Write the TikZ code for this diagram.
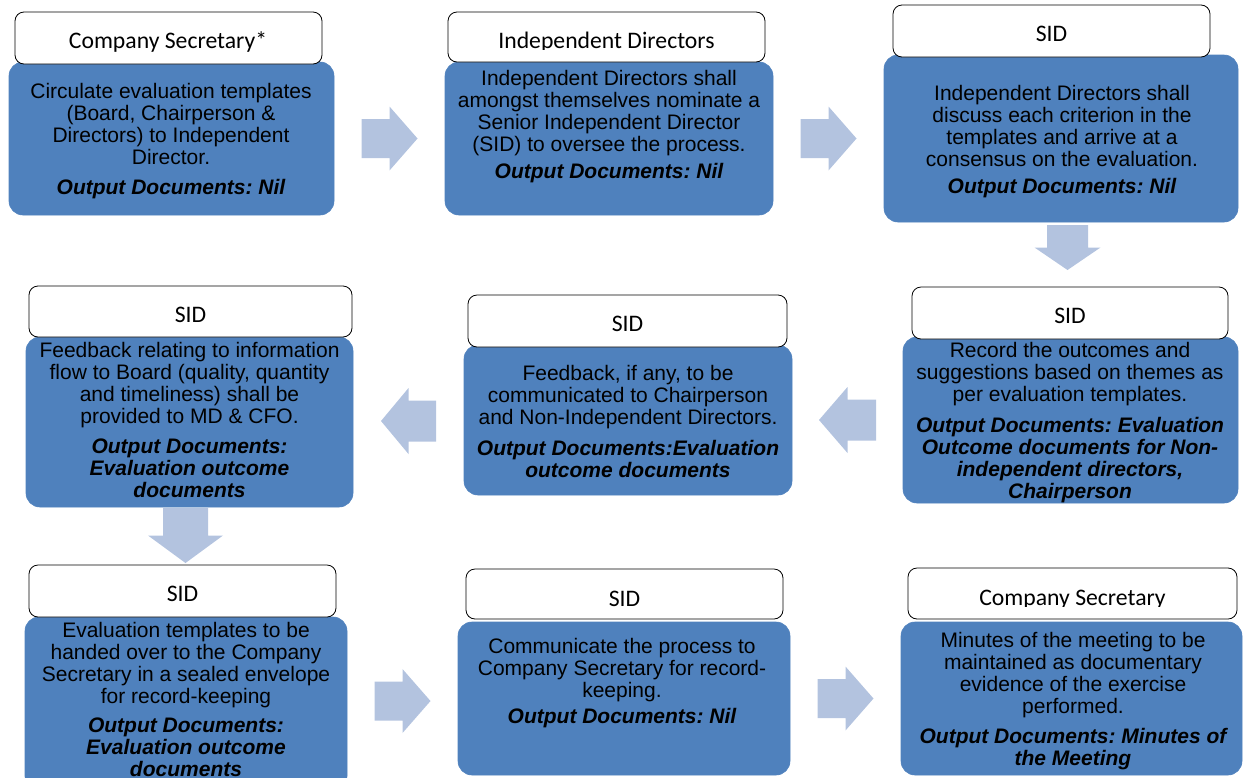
\documentclass[tikz,border=0pt]{standalone}
\usepackage{fontspec}
\setmainfont{Liberation Sans}
\newfontfamily\hdrfont{Carlito}
\usetikzlibrary{calc}
\frenchspacing
\definecolor{boxblue}{HTML}{4F81BD}
\definecolor{arrowblue}{HTML}{B3C3DF}
\newcommand\bi[1]{{\bfseries\itshape #1}}
\newcommand\fb{\rule{0pt}{17pt}}
\newcommand\mkbox[6]{\node[#6, minimum width={(#4)-(#2)}, minimum height={(#5)-(#3)}] (#1) at ({((#2)+(#4))/2},{((#3)+(#5))/2}) {};}
\begin{document}
\begin{tikzpicture}[x=1pt,y=-1pt,
  bluebox/.style={fill=boxblue, draw=boxblue, line width=0.6pt, rounded corners=14pt, inner sep=0pt, outer sep=0pt},
  hdrbox/.style={fill=white, draw=black, line width=0.8pt, rounded corners=9pt, inner sep=0pt, outer sep=0pt},
  hdrtext/.style={font=\hdrfont\fontsize{23.7}{26}\selectfont, inner sep=0pt, anchor=base},
  bodytext/.style={font=\fontsize{21}{22}\selectfont, align=center, inner sep=0pt, anchor=north},
  pics/barrow/.style args={#1/#2/#3}{code={\fill[arrowblue] (-#1,-#2) -- (0,-#2) -- (0,-#3) -- (#1,0) -- (0,#3) -- (0,#2) -- (-#1,#2) -- cycle;}}
]
\useasboundingbox (0,0) rectangle (1243,777);

% ---- blue boxes
\mkbox{b1}{9}{62}{334}{215}{bluebox}
\mkbox{b2}{445}{62}{773}{215}{bluebox}
\mkbox{b3}{884}{55}{1238}{222}{bluebox}
\mkbox{b4}{26}{337}{353}{507}{bluebox}
\mkbox{b5}{464}{345}{792}{495}{bluebox}
\mkbox{b6}{903}{337}{1238}{503}{bluebox}
\mkbox{b7}{25}{617}{347}{790}{bluebox}
\mkbox{b8}{458}{622}{790}{775}{bluebox}
\mkbox{b9}{901}{622}{1242}{775}{bluebox}

% ---- header boxes
\mkbox{h1}{15}{12}{322}{64}{hdrbox}
\mkbox{h2}{448}{12}{765}{62}{hdrbox}
\mkbox{h3}{893}{5}{1210}{57}{hdrbox}
\mkbox{h4}{29}{286}{352}{337}{hdrbox}
\mkbox{h5}{468}{295}{787}{347}{hdrbox}
\mkbox{h6}{912}{287}{1228}{339}{hdrbox}
\mkbox{h7}{29}{565}{336}{617}{hdrbox}
\mkbox{h8}{466}{569}{783}{619}{hdrbox}
\mkbox{h9}{908}{568}{1237}{619}{hdrbox}

% ---- header texts
\node[hdrtext] (h1t) at (168,48) {Company Secretary*};
\begin{scope}
\clip (448,12) rectangle (765,49);
\node[hdrtext] (h2t) at (606.5,48) {Independent Directors};
\end{scope}
\node[hdrtext] (h3t) at (1051.5,41) {SID};
\node[hdrtext] (h4t) at (190.5,322) {SID};
\node[hdrtext] (h5t) at (627.5,331.5) {SID};
\node[hdrtext] (h6t) at (1070,323) {SID};
\node[hdrtext] (h7t) at (182.5,601) {SID};
\node[hdrtext] (h8t) at (624.5,606) {SID};
\begin{scope}
\clip (908,568) rectangle (1237,606);
\node[hdrtext] (h9t) at (1072.5,605) {Company Secretary};
\end{scope}

% ---- body texts
\node[bodytext] (t1) at (171,81) {\fb Circulate evaluation templates\\(Board, Chairperson \&\\Directors) to Independent\\Director.\\[8pt]\bi{Output Documents: Nil}};
\node[bodytext] (t2) at (609,68) {\fb Independent Directors shall\\amongst themselves nominate a\\Senior Independent Director\\(SID) to oversee the process.\\[5pt]\bi{Output Documents: Nil}};
\node[bodytext] (t3) at (1062,83) {\fb Independent Directors shall\\discuss each criterion in the\\templates and arrive at a\\consensus on the evaluation.\\[5pt]\bi{Output Documents: Nil}};
\node[bodytext] (t4) at (189.5,340) {\fb Feedback relating to information\\flow to Board (quality, quantity\\and timeliness) shall be\\provided to MD \& CFO.\\[8pt]\bi{Output Documents:}\\\bi{Evaluation outcome}\\\bi{documents}};
\node[bodytext] (t5) at (628,363) {\fb Feedback, if any, to be\\communicated to Chairperson\\and Non-Independent Directors.\\[9pt]\bi{Output Documents:Evaluation}\\\bi{outcome documents}};
\node[bodytext] (t6) at (1070,340) {\fb Record the outcomes and\\suggestions based on themes as\\per evaluation templates.\\[9pt]\bi{Output Documents: Evaluation}\\\bi{Outcome documents for Non-}\\\bi{independent directors,}\\\bi{Chairperson}};
\node[bodytext] (t7) at (186,620) {\fb Evaluation templates to be\\handed over to the Company\\Secretary in a sealed envelope\\for record-keeping\\[7pt]\bi{Output Documents:}\\\bi{Evaluation outcome}\\\bi{documents}};
\node[bodytext] (t8) at (622,636) {\fb Communicate the process to\\Company Secretary for record-\\keeping.\\[4pt]\bi{Output Documents: Nil}};
\node[bodytext] (t9) at (1073,630) {\fb Minutes of the meeting to be\\maintained as documentary\\evidence of the exercise\\performed.\\[8.5pt]\bi{Output Documents: Minutes of}\\\bi{the Meeting}};

% ---- block arrows
\coordinate (a1) at ($(b1.east)!0.5!(b2.west)$);
\coordinate (a2) at ($(b2.east)!0.5!(b3.west)$);
\coordinate (a3) at (1067.5,247.5);
\coordinate (a4) at ($(b5.west)!0.5!(b4.east)$);
\coordinate (a5) at ($(b6.west)!0.5!(b5.east)$);
\coordinate (a6) at (185.5,535.5);
\coordinate (a7) at ($(b7.east)!0.5!(b8.west)$);
\coordinate (a8) at ($(b8.east)!0.5!(b9.west)$);
\pic at (a1) {barrow=28/19.5/32};
\pic at (a2) {barrow=28/19.5/32};
\pic[rotate=-90] at (a3) {barrow=22.5/20.5/33};
\pic[rotate=180] at (a4) {barrow=27.5/20.5/33};
\pic[rotate=180] at (a5) {barrow=28.5/20.5/33};
\pic[rotate=-90] at (a6) {barrow=27.5/22.5/37.5};
\pic at (a7) {barrow=28/19.5/32};
\pic at (a8) {barrow=28/19.5/32};
\end{tikzpicture}
\end{document}
